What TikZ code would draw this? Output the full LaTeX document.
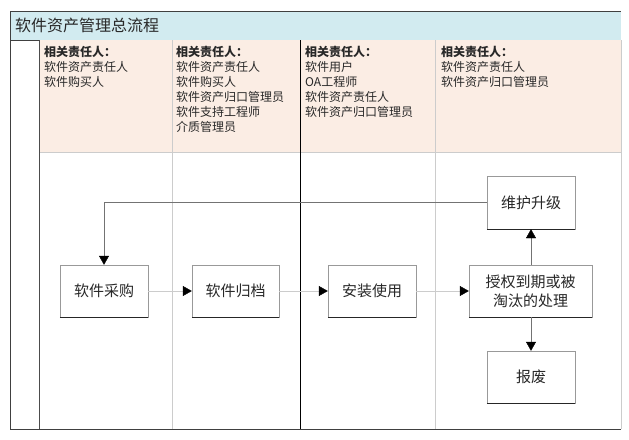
\documentclass[tikz,border=0pt]{standalone}
\usepackage{fontspec}
\setmainfont{Noto Sans CJK SC}
\usetikzlibrary{arrows.meta}
\definecolor{titlebg}{RGB}{210,235,240}
\definecolor{headbg}{RGB}{251,237,228}
\definecolor{txt}{RGB}{40,40,40}
\begin{document}
\begin{tikzpicture}[x=1pt,y=-1pt,
  procbox/.style={draw=black!40, fill=white, minimum height=52pt, inner sep=2pt,
    font=\fontsize{15}{19}\selectfont, text=txt, align=center,
    append after command={(\tikzlastnode.south west) edge[draw=black!85] (\tikzlastnode.south east)}},
  headtxt/.style={anchor=north west, inner sep=0pt, align=left, text=txt,
    font=\fontsize{12}{15}\selectfont},
  flow/.style={draw=black!20, -{Triangle[length=9pt,width=10pt,black]}},
  flowdark/.style={draw=black!55, -{Triangle[length=9pt,width=10pt,black]}}
]
\useasboundingbox (0,0) rectangle (629,439);
% backgrounds
\fill[titlebg] (10,11) rectangle (621,40);
\fill[headbg] (39,40) rectangle (621,152);
% grid lines
\draw[black!20] (39,152) -- (621,152);
\draw[black!20] (172,40) -- (172,429);
\draw[black!20] (435,40) -- (435,429);
\draw[black!20] (621,40) -- (621,429);
\draw[black] (300.5,40) -- (300.5,429);
\draw[black!70] (39,40) -- (39,429);
\draw[black!75] (10,40) -- (39,40);
\draw[black!75] (10,429) -- (10,11) -- (621,11);
\draw[black!75] (10,429) -- (621,429);
% title
\node[anchor=west, inner sep=0pt, font=\fontsize{16}{18}\selectfont, text=txt] (title) at (15,25.5) {软件资产管理总流程};
% header texts
\node[headtxt] (h1) at (44,46) {\textbf{相关责任人：}\\软件资产责任人\\软件购买人};
\node[headtxt] (h2) at (176,46) {\textbf{相关责任人：}\\软件资产责任人\\软件购买人\\软件资产归口管理员\\软件支持工程师\\介质管理员};
\node[headtxt] (h3) at (305,46) {\textbf{相关责任人：}\\软件用户\\OA工程师\\软件资产责任人\\软件资产归口管理员};
\node[headtxt] (h4) at (441,46) {\textbf{相关责任人：}\\软件资产责任人\\软件资产归口管理员};
% boxes
\node[procbox, minimum width=88pt] (cg) at (104,291) {软件采购};
\node[procbox, minimum width=87pt] (gd) at (235.5,291) {软件归档};
\node[procbox, minimum width=88pt] (az) at (372,291) {安装使用};
\node[procbox, minimum width=123pt] (sq) at (530.5,291) {授权到期或被\\淘汰的处理};
\node[procbox, minimum width=88pt, minimum height=53pt] (wh) at (531,202.5) {维护升级};
\node[procbox, minimum width=88pt] (bf) at (531,377) {报废};
% connectors
\draw[flow] (cg) -- (gd);
\draw[flow] (gd) -- (az);
\draw[flow] (az) -- (sq);
\draw[flowdark] (sq.north -| wh.south) -- (wh.south);
\draw[flowdark] (sq.south -| bf.north) -- (bf.north);
\draw[flowdark] (wh.west) -| (cg.north);
\end{tikzpicture}
\end{document}
